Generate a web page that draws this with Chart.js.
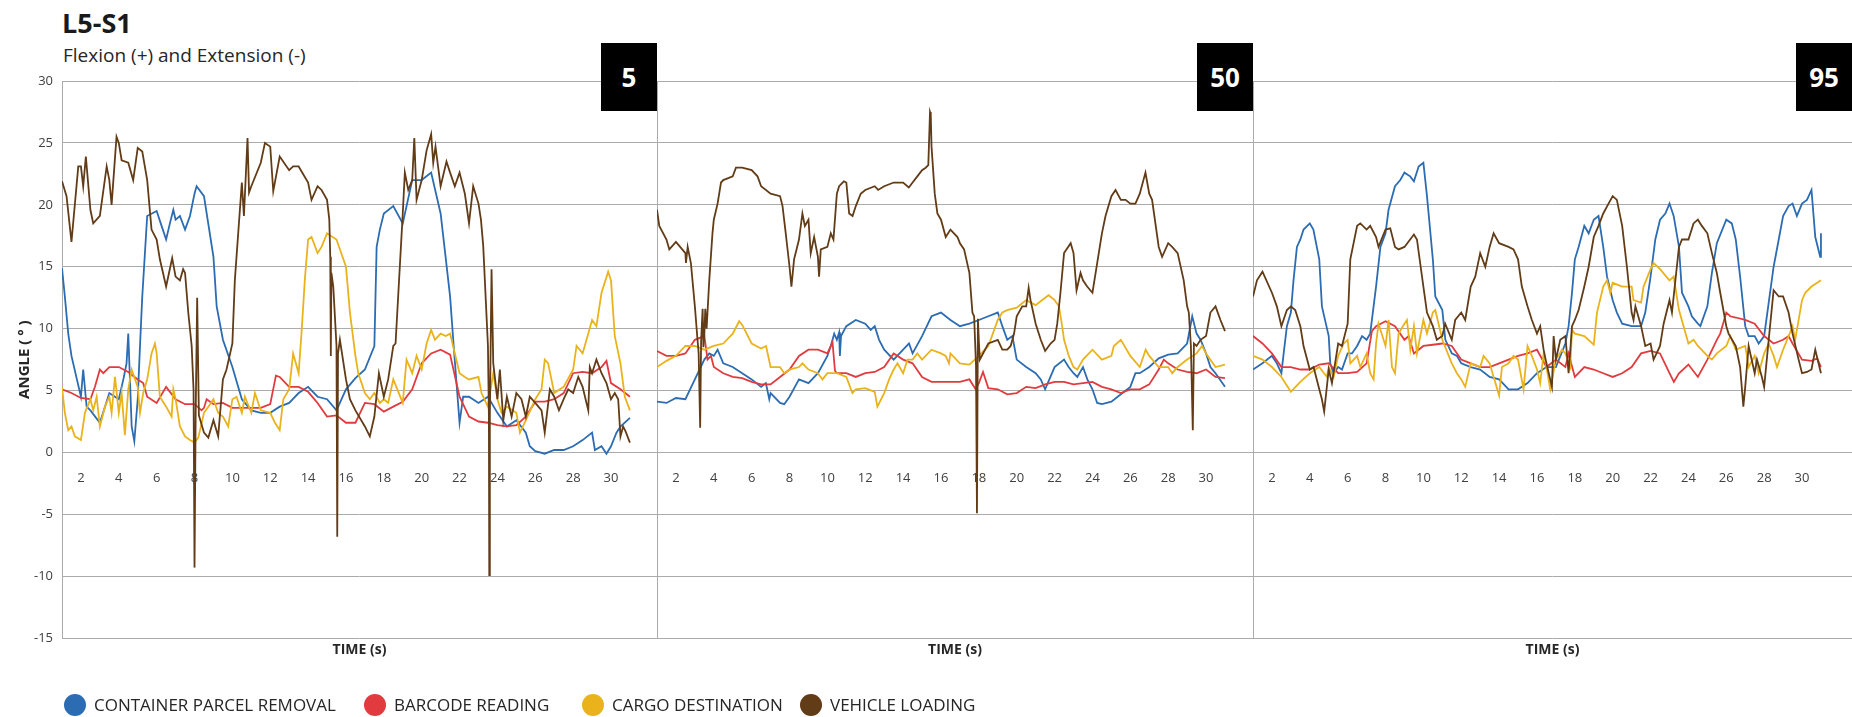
<!DOCTYPE html>
<html>
<head>
<meta charset="utf-8">
<script src="https://cdn.jsdelivr.net/npm/chart.js@4"></script>
<style>
  html, body { margin: 0; padding: 0; background: #fff; }
  #page { position: relative; width: 1852px; height: 717px; overflow: hidden; font-family: 'Open Sans', sans-serif; color: #1a1a1a; }
  #page canvas { position: absolute; top: 0; }
  .title { position: absolute; left: 62px; top: 9px; font-size: 27px; font-weight: 700; line-height: 1; }
  .subtitle { position: absolute; left: 63px; top: 46px; font-size: 19px; line-height: 1; color: #262626; }
  .badge { position: absolute; top: 43px; width: 56px; height: 68px; background: #000; color: #fff; font-weight: 700; font-size: 26px; display: flex; align-items: center; justify-content: center; }
  .legend { position: absolute; left: 64px; top: 694px; display: flex; font-size: 17px; color: #262626; }
  .legend .item { display: flex; align-items: center; height: 22px; line-height: 22px; white-space: nowrap; }
  .legend .dot { width: 22px; height: 22px; border-radius: 50%; margin-right: 8px; }
</style>
</head>
<body>
<div id="page">
  <div class="title">L5-S1</div>
  <div class="subtitle">Flexion (+) and Extension (-)</div>
  <canvas id="chart5" width="657" height="717" style="left:0px"></canvas>
  <canvas id="chart50" width="596" height="717" style="left:657px"></canvas>
  <canvas id="chart95" width="599" height="717" style="left:1253px"></canvas>
  <div class="badge" style="left:601px">5</div>
  <div class="badge" style="left:1197px">50</div>
  <div class="badge" style="left:1796px">95</div>
  <div class="legend" id="legend"></div>
</div>
<script>
// ---- data ----
const SERIES = ['CONTAINER PARCEL REMOVAL', 'BARCODE READING', 'CARGO DESTINATION', 'VEHICLE LOADING'];
const PANELS = ['5', '50', '95'];
const X_TICKS = [2, 4, 6, 8, 10, 12, 14, 16, 18, 20, 22, 24, 26, 28, 30];
const Y_TICKS = [-15, -10, -5, 0, 5, 10, 15, 20, 25, 30];

// sample times (s)
const TIME = [
  1, 1.5, 2, 2.5, 3, 3.5, 4, 4.5, 5, 5.5,
  6, 6.5, 7, 7.5, 8, 8.5, 9, 9.5, 10, 10.5,
  11, 11.5, 12, 12.5, 13, 13.5, 14, 14.5, 15, 15.5,
  16, 16.5, 17, 17.5, 18, 18.5, 19, 19.5, 20, 20.5,
  21, 21.5, 22, 22.5, 23, 23.5, 24, 24.5, 25, 25.5,
  26, 26.5, 27, 27.5, 28, 28.5, 29, 29.5, 30, 30.5,
  31];

// panel 5
const p5Container = [
  14.9, 7.8, 4.5, 3.4, 2.4, 4.8, 4.3, 9.6, 4.3, 19.1,
  19.5, 17.2, 18.8, 18.0, 20.9, 20.7, 15.8, 9.1, 6.9, 4.3,
  3.4, 3.2, 3.2, 3.7, 4.0, 4.8, 5.3, 4.5, 4.3, 3.4,
  5.1, 6.0, 6.7, 8.6, 19.3, 19.9, 18.5, 22.0, 22.0, 22.6,
  19.3, 12.6, 2.4, 4.5, 4.0, 4.5, 3.2, 2.1, 2.6, 1.6,
  0.1, -0.1, 0.2, 0.2, 0.5, 1.0, 1.6, 0.5, 0.5, 2.1,
  2.8];
const p5ContainerDetail = [[1.15, 12.6], [1.33, 9.6], [2.12, 6.7], [2.3, 3.7], [4.24, 5.9], [4.41, 7.2], [4.68, 2.1], [4.82, 0.9], [5.12, 8.6], [5.24, 12.6], [6.26, 18.3], [6.7, 18.5], [6.88, 19.6], [7.23, 19.1], [7.76, 19.1], [8.11, 21.5], [9.17, 11.8], [17.62, 16.6], [17.79, 18.0], [21.69, 8.6], [22.19, 4.5], [25.71, 0.5], [29.15, 0.2], [29.76, -0.1], [30.29, 1.6]];
const p5Barcode = [
  5.1, 4.8, 4.4, 4.3, 6.7, 6.9, 6.9, 6.5, 5.9, 4.5,
  4.0, 5.3, 4.3, 3.9, 3.9, 3.6, 3.9, 4.0, 3.6, 3.6,
  3.6, 3.6, 3.9, 6.1, 5.3, 5.3, 4.9, 4.0, 2.9, 3.0,
  2.4, 2.4, 4.0, 3.9, 3.3, 3.7, 4.1, 5.1, 7.2, 8.0,
  8.3, 7.9, 4.5, 2.9, 2.5, 2.4, 2.2, 2.1, 2.2, 2.9,
  4.1, 4.1, 4.3, 4.8, 6.4, 6.5, 6.4, 6.9, 5.6, 5.1,
  4.5];
const p5BarcodeDetail = [[2.74, 5.3], [3.18, 6.4], [5.29, 5.6], [8.37, 3.4], [8.64, 4.3], [12.3, 6.2], [29.76, 7.4]];
const p5Cargo = [
  5.3, 2.1, 1.0, 4.3, 2.1, 4.5, 3.2, 5.1, 5.3, 5.9,
  8.0, 3.7, 4.3, 1.3, 0.8, 3.2, 4.3, 2.9, 4.3, 3.2,
  3.2, 3.4, 3.2, 1.8, 5.1, 6.4, 17.2, 16.1, 17.7, 17.2,
  15.0, 7.8, 4.8, 4.8, 4.3, 5.9, 4.0, 6.4, 6.7, 9.9,
  9.6, 9.6, 6.4, 5.9, 6.1, 3.7, 4.3, 3.7, 3.2, 2.6,
  4.3, 7.5, 4.8, 5.3, 6.7, 8.0, 10.7, 12.9, 13.9, 7.2,
  3.4];
const p5CargoDetail = [[1.15, 3.2], [1.33, 1.8], [1.68, 1.3], [2.21, 3.2], [2.65, 3.4], [2.83, 4.5], [3.27, 3.7], [3.62, 3.2], [3.8, 6.1], [4.15, 4.8], [4.32, 1.4], [4.68, 6.7], [5.12, 3.2], [5.29, 4.8], [5.73, 8.0], [5.91, 8.8], [6.17, 4.5], [6.79, 2.9], [6.88, 5.1], [7.23, 2.1], [7.76, 1.0], [8.2, 1.2], [8.73, 3.7], [9.25, 3.2], [9.78, 2.1], [10.22, 4.5], [10.66, 4.5], [11.19, 4.8], [12.25, 2.4], [12.69, 4.3], [13.21, 8.0], [13.65, 9.6], [13.83, 14.0], [14.18, 17.4], [14.71, 16.6], [16.21, 11.3], [16.65, 6.4], [17.26, 4.3], [17.79, 4.0], [18.23, 4.0], [19.2, 7.5], [19.73, 7.8], [20.26, 8.8], [20.7, 9.1], [21.27, 9.4], [22.28, 6.1], [23.16, 4.8], [23.78, 6.4], [24.22, 3.2], [25.19, 1.6], [26.33, 5.1], [26.68, 7.2], [28.18, 8.6], [28.8, 9.6], [29.23, 10.2], [29.85, 14.6], [30.2, 9.4], [30.73, 4.5]];
const p5Vehicle = [
  21.9, 17.0, 23.1, 19.6, 19.1, 22.0, 25.0, 23.4, 24.6, 22.0,
  17.2, 13.4, 14.2, 14.5, -9.3, 1.6, 2.6, 5.9, 8.8, 21.8,
  21.5, 23.4, 24.7, 23.9, 22.8, 23.1, 21.8, 21.5, 20.4, 8.6,
  5.9, 3.4, 2.1, 2.9, 4.5, 8.6, 19.3, 22.0, 22.0, 25.7,
  21.5, 22.6, 22.6, 18.5, 20.1, 8.6, 4.3, 4.5, 4.8, 2.9,
  4.0, 1.6, 4.5, 4.3, 4.8, 5.3, 6.4, 6.4, 4.3, 1.3,
  0.8];
const p5VehicleDetail = [[1.24, 20.7], [1.86, 23.1], [2.12, 21.5], [2.26, 23.9], [2.65, 18.5], [3.36, 23.1], [3.62, 20.0], [3.88, 25.5], [4.15, 23.6], [4.76, 22.0], [5.24, 24.3], [5.73, 18.0], [6.17, 15.6], [6.82, 15.7], [7.23, 13.9], [7.4, 14.8], [7.67, 11.3], [7.85, 8.6], [7.95, 5.0], [8.06, 3.0], [8.14, 12.5], [8.23, 3.0], [8.73, 1.2], [9.25, 1.3], [9.69, 6.7], [10.13, 13.9], [10.61, 19.1], [10.8, 25.4], [10.88, 21.0], [11.72, 25.0], [12.16, 21.1], [13.21, 23.1], [14.18, 20.4], [14.71, 21.2], [15.12, 18.8], [15.17, 15.8], [15.2, 7.8], [15.23, 14.5], [15.33, 13.4], [15.54, -6.8], [15.58, 8.0], [15.68, 9.1], [16.21, 4.3], [17.26, 1.3], [17.74, 6.4], [18.23, 5.9], [18.62, 8.8], [19.11, 22.6], [19.29, 21.2], [19.61, 25.4], [19.73, 20.4], [20.26, 24.4], [20.61, 23.4], [20.73, 24.7], [21.31, 23.5], [21.75, 21.5], [22.28, 20.9], [22.72, 21.5], [23.13, 18.8], [23.25, 16.7], [23.55, 3.0], [23.57, -9.9], [23.6, 3.0], [23.69, 14.8], [23.78, 7.2], [24.13, 6.7], [24.31, 2.6], [24.75, 2.9], [25.27, 4.3], [25.71, 4.5], [26.33, 3.4], [26.77, 5.1], [27.25, 3.4], [27.74, 5.1], [28.27, 6.1], [28.8, 3.4], [28.88, 6.9], [29.23, 7.5], [29.76, 5.6], [30.2, 4.8], [30.38, 4.3], [30.64, 2.1], [30.77, 1.7]];

// panel 50
const p50Container = [
  4.1, 4.0, 4.4, 4.3, 5.9, 7.5, 7.8, 7.2, 6.9, 6.4,
  5.9, 5.3, 4.8, 4.0, 4.5, 5.9, 5.6, 6.4, 7.8, 9.1,
  10.2, 10.7, 10.4, 10.2, 8.3, 7.5, 8.3, 8.0, 9.4, 11.0,
  11.3, 10.7, 10.2, 10.4, 10.7, 11.0, 11.3, 9.1, 7.5, 6.9,
  6.4, 5.1, 6.9, 7.5, 6.4, 6.9, 5.1, 3.9, 4.1, 4.7,
  5.3, 6.4, 6.9, 7.6, 7.9, 8.0, 8.8, 9.6, 8.0, 6.4,
  5.3];
const p50ContainerDetail = [[3.76, 8.0], [4.2, 8.3], [6.75, 5.6], [6.93, 4.3], [7.72, 3.9], [10.18, 8.6], [10.36, 9.6], [10.62, 9.7], [10.66, 7.8], [10.72, 9.4], [12.29, 9.9], [12.73, 9.1], [14.31, 8.8], [19.24, 10.2], [19.77, 9.4], [21.27, 5.9], [22.74, 6.9], [23.2, 6.1], [23.73, 5.9], [24.25, 4.0], [26.27, 6.4], [29.27, 11.0], [29.71, 9.1], [30.23, 6.9]];
const p50Barcode = [
  8.2, 7.8, 7.8, 8.0, 9.1, 9.4, 6.9, 6.4, 6.1, 6.0,
  5.7, 5.5, 5.5, 6.1, 6.7, 7.8, 8.3, 8.3, 8.0, 6.4,
  6.4, 6.1, 6.4, 6.5, 6.9, 8.0, 7.5, 7.2, 6.1, 5.7,
  5.7, 5.7, 5.7, 5.9, 5.6, 5.2, 5.1, 4.7, 4.8, 5.3,
  5.2, 5.5, 5.7, 5.7, 5.5, 5.6, 5.7, 5.3, 5.1, 4.8,
  5.1, 5.1, 5.5, 6.7, 7.2, 6.7, 6.5, 6.4, 6.7, 6.1,
  6.0];
const p50BarcodeDetail = [[3.67, 7.5], [3.85, 7.8], [10.27, 8.9], [10.4, 6.6], [17.83, 5.1], [18.22, 6.5], [27.77, 7.5]];
const p50Cargo = [
  6.9, 7.4, 7.8, 8.6, 8.6, 8.3, 8.6, 8.8, 9.6, 10.3,
  8.8, 8.4, 6.9, 6.9, 6.7, 6.9, 6.7, 6.4, 6.4, 6.4,
  6.1, 5.1, 5.2, 4.9, 4.8, 6.7, 6.4, 7.5, 7.5, 8.3,
  8.0, 8.0, 7.2, 7.1, 7.8, 8.6, 10.7, 11.5, 11.7, 12.3,
  11.9, 12.5, 12.3, 9.1, 6.9, 7.5, 8.3, 7.5, 7.8, 9.1,
  7.8, 6.9, 7.8, 6.9, 6.9, 6.9, 7.5, 8.0, 8.0, 6.9,
  7.1];
const p50CargoDetail = [[5.34, 10.6], [6.76, 8.6], [7.72, 6.4], [8.68, 7.2], [9.74, 5.9], [11.32, 4.8], [12.64, 3.7], [13.26, 5.9], [13.7, 7.2], [14.23, 7.5], [14.75, 8.0], [16.25, 7.8], [16.42, 7.2], [19.24, 11.3], [21.69, 12.7], [22.23, 11.8], [22.4, 10.2], [22.75, 7.8], [23.2, 6.7], [25.13, 8.6], [26.81, 8.3], [28.21, 6.4], [29.79, 8.6]];
const p50Vehicle = [
  19.6, 17.2, 17.0, 16.1, 11.8, 9.5, 18.8, 22.0, 22.3, 23.0,
  22.8, 21.5, 20.9, 20.7, 15.0, 17.2, 18.8, 15.8, 16.6, 20.9,
  21.8, 19.9, 21.2, 21.5, 21.5, 21.8, 21.8, 21.8, 22.8, 24.7,
  18.8, 18.0, 16.9, 14.5, 9.0, 8.8, 9.1, 8.3, 11.0, 11.8,
  10.4, 8.2, 9.1, 16.1, 16.1, 13.9, 12.9, 17.7, 20.7, 20.4,
  20.1, 20.9, 20.9, 16.6, 16.9, 16.1, 11.8, 8.6, 9.4, 11.8,
  9.8];
const p50VehicleDetail = [[1.12, 18.3], [1.65, 16.4], [2.53, 15.3], [2.62, 16.6], [2.79, 15.3], [3.14, 9.1], [3.2, 8.0], [3.28, 2.0], [3.33, 9.0], [3.41, 11.6], [3.45, 8.5], [3.55, 11.6], [3.62, 10.0], [3.76, 13.9], [3.93, 17.7], [4.2, 20.1], [4.38, 21.8], [5.17, 23.0], [6.31, 22.3], [7.63, 19.9], [7.8, 17.7], [8.1, 13.4], [8.24, 15.6], [8.68, 19.3], [8.81, 18.3], [9.12, 16.1], [9.3, 17.4], [9.56, 14.2], [9.65, 16.4], [10.18, 17.7], [10.32, 17.2], [10.62, 21.5], [10.87, 21.9], [11.15, 19.3], [11.33, 19.1], [11.76, 20.9], [12.68, 21.2], [14.3, 21.4], [14.75, 22.3], [15.19, 23.0], [15.33, 23.2], [15.42, 27.5], [15.46, 27.3], [15.67, 20.9], [15.81, 19.3], [16.25, 17.4], [16.87, 17.4], [17.22, 16.4], [17.66, 11.3], [17.75, 11.0], [17.85, 7.0], [17.9, -4.9], [17.95, 10.8], [18.05, 7.5], [19.24, 8.3], [19.68, 8.6], [19.86, 9.6], [20.29, 11.8], [20.63, 13.3], [20.73, 12.3], [21.27, 9.1], [21.79, 8.8], [22.14, 10.4], [22.31, 12.9], [22.85, 16.9], [23.16, 13.1], [23.37, 14.5], [23.72, 13.4], [24.25, 15.3], [24.69, 19.1], [25.22, 21.2], [25.75, 20.4], [26.27, 20.1], [26.8, 22.6], [27.15, 20.4], [27.68, 15.8], [28.21, 16.6], [28.82, 13.9], [29.09, 11.3], [29.2, 8.6], [29.3, 1.8], [29.36, 8.8], [29.71, 9.1], [30.23, 11.3], [30.76, 10.7]];

// panel 95
const p95Container = [
  6.7, 7.2, 7.8, 6.4, 11.3, 17.2, 18.5, 15.6, 9.4, 6.9,
  8.0, 8.6, 9.1, 13.4, 17.7, 21.5, 22.6, 21.9, 23.4, 15.6,
  11.5, 8.0, 7.2, 6.9, 6.7, 6.1, 5.9, 5.1, 5.1, 5.6,
  6.4, 6.9, 6.9, 8.8, 15.6, 18.3, 18.8, 16.6, 12.3, 10.4,
  10.2, 10.2, 14.2, 18.8, 20.1, 16.6, 11.8, 10.4, 11.8, 16.9,
  18.8, 17.2, 10.2, 9.4, 9.4, 15.0, 19.1, 20.1, 20.1, 21.2,
  17.7];
const p95ContainerDetail = [[2.26, 7.2], [2.62, 8.0], [2.79, 10.2], [3.14, 13.9], [3.32, 16.6], [3.67, 18.0], [4.19, 18.0], [4.64, 11.8], [5.08, 7.2], [5.26, 6.4], [5.7, 6.7], [6.23, 8.0], [6.76, 9.4], [7.19, 9.6], [7.37, 11.8], [7.73, 16.6], [8.16, 19.6], [8.78, 22.0], [9.3, 22.3], [9.75, 23.1], [10.19, 20.7], [10.63, 12.6], [11.16, 9.1], [11.77, 7.8], [17.67, 10.2], [17.85, 12.9], [18.2, 16.6], [18.73, 17.7], [19.25, 19.1], [19.7, 14.2], [20.22, 11.3], [21.72, 11.3], [22.25, 17.2], [22.78, 19.3], [23.22, 19.1], [23.66, 12.9], [24.18, 11.0], [24.63, 10.2], [25.24, 14.5], [26.29, 18.5], [26.73, 14.2], [27.18, 9.4], [27.71, 8.8], [28.24, 12.1], [28.77, 17.2], [29.29, 19.9], [29.73, 19.1], [30.26, 20.4], [30.7, 17.4], [30.96, 15.8]];
const p95Barcode = [
  9.4, 8.8, 8.0, 6.9, 6.9, 6.7, 6.7, 7.1, 7.2, 6.4,
  6.4, 6.5, 7.2, 10.2, 10.6, 10.2, 9.1, 8.0, 8.6, 8.7,
  8.8, 8.6, 7.5, 7.2, 6.9, 6.9, 7.2, 7.5, 7.8, 8.0,
  8.3, 6.9, 7.5, 6.9, 6.1, 6.9, 6.7, 6.4, 6.1, 6.4,
  6.9, 8.0, 8.2, 8.0, 6.4, 6.4, 7.1, 6.1, 7.5, 9.1,
  11.3, 10.9, 10.7, 10.4, 9.4, 8.8, 9.1, 8.8, 7.5, 7.4,
  6.9];
const p95BarcodeDetail = [[7.28, 9.8], [9.22, 9.4], [17.67, 8.0], [23.23, 5.7], [25.68, 9.6], [26.21, 11.0], [29.29, 9.4], [30.8, 7.6]];
const p95Cargo = [
  7.8, 7.5, 6.9, 6.1, 4.9, 5.7, 6.4, 6.9, 6.9, 7.8,
  9.1, 7.8, 8.0, 8.8, 8.6, 6.4, 10.4, 10.2, 10.7, 11.3,
  9.1, 7.2, 5.9, 7.2, 6.9, 7.2, 4.6, 7.2, 7.5, 8.6,
  6.7, 6.9, 7.5, 8.0, 9.6, 9.4, 8.7, 13.4, 13.7, 13.4,
  13.4, 12.1, 14.8, 14.8, 13.9, 11.5, 8.8, 8.6, 7.8, 8.0,
  8.6, 8.3, 8.6, 7.8, 8.0, 7.8, 8.3, 10.2, 12.3, 13.4,
  13.9];
const p95CargoDetail = [[4.9, 6.1], [5.26, 6.1], [5.79, 8.8], [6.14, 7.2], [6.67, 6.9], [7.19, 6.4], [7.37, 5.9], [7.63, 10.4], [8.16, 10.7], [8.34, 6.9], [8.69, 9.6], [9.13, 10.7], [9.31, 8.3], [9.66, 8.0], [10.19, 9.6], [10.63, 11.5], [11.77, 6.4], [12.21, 5.3], [13.18, 7.8], [14.15, 6.9], [14.76, 7.8], [15.29, 5.1], [15.73, 7.8], [16.17, 5.6], [16.35, 8.0], [16.7, 5.1], [17.32, 8.3], [17.76, 6.9], [17.85, 9.9], [19.17, 11.3], [19.7, 13.9], [19.87, 12.9], [21.1, 12.3], [21.63, 13.4], [22.16, 15.3], [23.22, 14.2], [24.27, 9.1], [25.24, 7.5], [26.21, 9.4], [27.18, 6.9], [27.71, 6.4], [28.24, 8.8], [28.68, 6.9], [29.64, 9.1], [30.17, 12.9]];
const p95Vehicle = [
  12.6, 14.6, 12.9, 10.2, 11.8, 10.2, 6.7, 5.1, 6.7, 8.8,
  10.4, 18.3, 18.0, 17.4, 18.0, 16.6, 16.6, 17.6, 13.4, 10.2,
  9.4, 9.1, 11.3, 13.4, 16.1, 16.6, 16.9, 16.6, 15.6, 11.8,
  9.6, 7.2, 7.5, 9.4, 10.7, 13.4, 17.4, 19.3, 20.7, 18.3,
  11.3, 10.2, 8.8, 8.6, 12.3, 16.6, 17.2, 18.8, 17.7, 14.5,
  10.2, 8.6, 5.3, 6.4, 5.3, 13.1, 12.6, 9.6, 6.4, 6.7,
  6.4];
const p95VehicleDetail = [[1.21, 13.9], [2.26, 11.8], [2.79, 11.5], [3.23, 11.5], [3.67, 8.6], [4.2, 6.9], [4.64, 4.3], [4.76, 3.3], [5.17, 5.6], [5.7, 8.6], [6.14, 15.6], [6.67, 18.5], [7.19, 18.3], [7.63, 16.6], [8.25, 18.1], [8.69, 16.4], [9.66, 17.2], [10.19, 11.3], [10.71, 9.1], [11.15, 10.4], [11.68, 10.7], [12.21, 10.7], [12.74, 14.2], [13.27, 15.0], [13.71, 17.7], [14.76, 16.4], [15.2, 13.4], [15.73, 10.7], [16.17, 10.2], [16.35, 8.3], [16.79, 5.3], [16.88, 9.4], [17.23, 9.1], [17.67, 6.4], [17.85, 10.2], [18.2, 11.5], [18.73, 15.0], [19.25, 18.3], [19.78, 20.1], [20.22, 20.4], [20.75, 15.0], [21.1, 10.7], [21.2, 11.8], [21.72, 8.6], [22.16, 7.5], [22.69, 10.4], [23.13, 11.3], [23.66, 17.2], [24.27, 18.5], [24.71, 18.3], [25.24, 16.1], [25.68, 12.9], [26.12, 9.6], [26.73, 6.9], [26.9, 3.7], [27.18, 8.6], [27.62, 7.5], [27.88, 6.1], [28.24, 9.1], [28.77, 12.6], [29.29, 11.3], [29.82, 7.5], [30.26, 6.5], [30.7, 8.3]];

// ---- styling ----
const COLORS = ['#2b6cb3', '#e13b3f', '#eab31c', '#623b17'];
const GRID_COLOR = '#ababab';
const TICK_COLOR = '#404040';
const X_MAX = [32.43, 32.48, 32.64];
const LEGEND_WIDTHS = [300, 218, 218, 200];

Chart.defaults.font.family = "'Open Sans', sans-serif";

// merge the regular samples with the extra detail points, ordered by time
function toPoints(values, detail) {
  const pts = TIME.map((t, i) => ({ x: t, y: values[i] }));
  detail.forEach(([x, y]) => pts.push({ x, y }));
  return pts.sort((a, b) => a.x - b.x);
}

// left border of each panel
const panelFrame = {
  id: 'panelFrame',
  beforeDatasetsDraw(chart) {
    const { ctx, chartArea } = chart;
    const x = Math.round(chartArea.left) + 0.5;
    ctx.save();
    ctx.strokeStyle = GRID_COLOR;
    ctx.lineWidth = 1;
    ctx.beginPath();
    ctx.moveTo(x, chartArea.top);
    ctx.lineTo(x, chartArea.bottom);
    ctx.stroke();
    ctx.restore();
  }
};

function makePanel(canvasId, index, series) {
  const first = index === 0;
  const datasets = series.map(([values, detail], i) => ({
    label: SERIES[i],
    data: toPoints(values, detail),
    borderColor: COLORS[i],
    backgroundColor: COLORS[i],
    borderWidth: 1.8,
    pointRadius: 0,
    tension: 0,
    order: 3 - i
  }));

  return new Chart(document.getElementById(canvasId), {
    type: 'line',
    data: { datasets },
    options: {
      responsive: false,
      animation: false,
      events: [],
      layout: { padding: { top: 81, bottom: 56, left: 0, right: 0 } },
      plugins: {
        legend: { display: false },
        tooltip: { enabled: false },
        title: {
          display: true,
          text: 'TIME (s)',
          position: 'bottom',
          fullSize: false,
          color: '#262626',
          font: { size: 14, weight: 'bold' },
          padding: { top: 3, bottom: 3 }
        }
      },
      scales: {
        x: {
          type: 'linear',
          min: 1,
          max: X_MAX[index],
          position: { y: 0 },
          grid: { display: false },
          border: { display: false },
          afterBuildTicks: (s) => { s.ticks = X_TICKS.map(v => ({ value: v })); },
          ticks: { autoSkip: false, maxRotation: 0, padding: 10, color: TICK_COLOR, font: { size: 13 } }
        },
        y: {
          min: -15,
          max: 30,
          afterBuildTicks: (s) => { s.ticks = Y_TICKS.map(v => ({ value: v })); },
          afterFit: (s) => { s.width = first ? 62 : 0; },
          grid: { color: GRID_COLOR, lineWidth: 1, drawTicks: false },
          border: { display: false },
          ticks: { display: first, padding: 9, color: TICK_COLOR, font: { size: 13 } },
          title: {
            display: first,
            text: 'ANGLE ( ° )',
            color: '#262626',
            font: { size: 15, weight: 'bold' },
            padding: { top: 16, bottom: 0 }
          }
        }
      }
    },
    plugins: [panelFrame]
  });
}

makePanel('chart5', 0, [
  [p5Container, p5ContainerDetail],
  [p5Barcode, p5BarcodeDetail],
  [p5Cargo, p5CargoDetail],
  [p5Vehicle, p5VehicleDetail]
]);
makePanel('chart50', 1, [
  [p50Container, p50ContainerDetail],
  [p50Barcode, p50BarcodeDetail],
  [p50Cargo, p50CargoDetail],
  [p50Vehicle, p50VehicleDetail]
]);
makePanel('chart95', 2, [
  [p95Container, p95ContainerDetail],
  [p95Barcode, p95BarcodeDetail],
  [p95Cargo, p95CargoDetail],
  [p95Vehicle, p95VehicleDetail]
]);

// legend
const legend = document.getElementById('legend');
legend.innerHTML = SERIES.map((name, i) =>
  `<div class="item" style="width:${LEGEND_WIDTHS[i]}px"><span class="dot" style="background:${COLORS[i]}"></span>${name}</div>`
).join('');
</script>
</body>
</html>
